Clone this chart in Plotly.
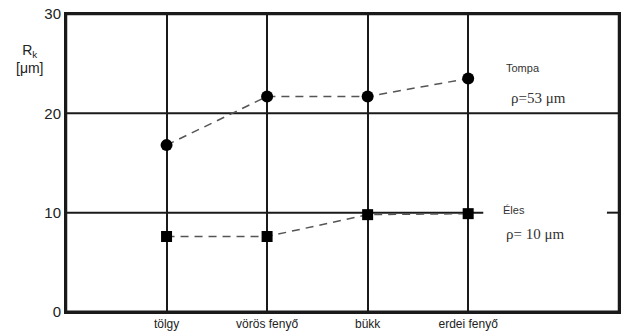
import plotly.graph_objects as go

categories = ["tölgy", "vörös fenyő", "bükk", "erdei fenyő"]
cat_pos = [1, 2, 3, 4]
tompa = [16.8, 21.7, 21.7, 23.5]
eles = [7.6, 7.6, 9.8, 9.9]
y_ticks = [0, 10, 20, 30]

LINE = "#1a1a1a"

fig = go.Figure()
fig.add_trace(go.Scatter(
    x=cat_pos, y=tompa, mode="lines+markers",
    line=dict(color="#555555", width=1.5, dash="8px,6px"),
    marker=dict(symbol="circle", size=12, color="black"),
    showlegend=False, cliponaxis=False))
fig.add_trace(go.Scatter(
    x=cat_pos, y=eles, mode="lines+markers",
    line=dict(color="#555555", width=1.5, dash="8px,6px"),
    marker=dict(symbol="square", size=11, color="black"),
    showlegend=False, cliponaxis=False))

grid = dict(color=LINE, width=2)
fig.add_shape(type="line", xref="x", yref="y", x0=0, x1=5.5, y0=20, y1=20, line=grid, layer="below")
fig.add_shape(type="line", xref="x", yref="y", x0=0, x1=4.15, y0=10, y1=10, line=grid, layer="below")
fig.add_shape(type="line", xref="x", yref="y", x0=5.38, x1=5.5, y0=10, y1=10, line=grid, layer="below")
# frame
fig.add_shape(type="line", xref="paper", yref="paper", x0=0, x1=1, y0=0, y1=0, line=dict(color=LINE, width=3))
fig.add_shape(type="line", xref="paper", yref="paper", x0=0, x1=1, y0=1, y1=1, line=dict(color=LINE, width=2.5))
fig.add_shape(type="line", xref="paper", yref="paper", x0=0, x1=0, y0=0, y1=1, line=dict(color=LINE, width=2.5))
fig.add_shape(type="line", xref="paper", yref="paper", x0=1, x1=1, y0=0, y1=1, line=dict(color=LINE, width=2.5))

fig.update_xaxes(
    range=[0, 5.5], tickvals=cat_pos, ticktext=categories,
    showgrid=True, gridcolor=LINE, gridwidth=2,
    showline=True, linecolor=LINE, linewidth=2, mirror=True,
    ticks="", zeroline=False, ticklabeloverflow="allow",
    tickfont=dict(family="Liberation Sans, Arial", size=12, color="#222222"))
fig.update_yaxes(
    range=[0, 30], tickvals=y_ticks,
    showgrid=False, showline=True, linecolor=LINE, linewidth=2, mirror=True,
    ticks="", zeroline=False, ticklabeloverflow="allow",
    tickfont=dict(family="Liberation Sans, Arial", size=15, color="#222222"))

fig.add_annotation(xref="paper", yref="paper", x=-0.065, y=0.85, xanchor="center", yanchor="middle",
                   text="R<sub>k</sub><br>[μm]", showarrow=False,
                   font=dict(family="Liberation Sans, Arial", size=14, color="#222222"))
fig.add_annotation(xref="x", yref="y", x=4.55, y=24.6, text="Tompa", showarrow=False,
                   xanchor="center", yanchor="middle",
                   font=dict(family="Liberation Sans, Arial", size=11, color="#333333"))
fig.add_annotation(xref="x", yref="y", x=4.7, y=21.5, text="ρ=53 μm", showarrow=False,
                   xanchor="center", yanchor="middle",
                   font=dict(family="Liberation Serif, Times New Roman", size=15, color="#333333"))
fig.add_annotation(xref="x", yref="y", x=4.46, y=10.3, text="Éles", showarrow=False,
                   xanchor="center", yanchor="middle",
                   font=dict(family="Liberation Sans, Arial", size=11, color="#333333"))
fig.add_annotation(xref="x", yref="y", x=4.66, y=7.9, text="ρ= 10 μm", showarrow=False,
                   xanchor="center", yanchor="middle",
                   font=dict(family="Liberation Serif, Times New Roman", size=15, color="#333333"))

fig.update_layout(
    width=626, height=336,
    margin=dict(l=66, r=5, t=13, b=24),
    paper_bgcolor="white", plot_bgcolor="white",
)
fig.write_html(
    "out.html", config={"displayModeBar": False},
    post_script="document.body.style.margin='0';document.body.style.overflow='hidden';")
